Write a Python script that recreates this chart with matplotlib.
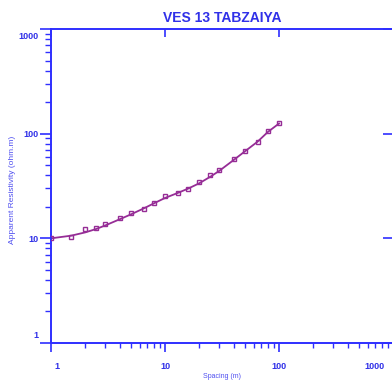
import numpy as np
import matplotlib
matplotlib.use("Agg")
import matplotlib.pyplot as plt
import matplotlib.transforms as mtransforms

plt.rcParams['font.family'] = ['Liberation Sans', 'DejaVu Sans']

# field data (AB/2 spacing vs apparent resistivity)
spacing = [1, 1.5, 2, 2.5, 3, 4, 5, 6.5, 8, 10, 13, 16, 20, 25, 30, 40, 50, 65, 80, 100]
rho_obs = [10.0, 10.4, 12.2, 12.5, 13.8, 15.7, 17.5, 19.0, 21.9, 25.4,
           27.3, 29.8, 34.7, 40.5, 45.2, 57.2, 68.2, 83.7, 105.9, 125.4]
# fitted model curve
rho_fit = [10.0, 10.6, 11.4, 12.3, 13.3, 15.2, 16.9, 19.3, 21.6, 24.3,
           27.2, 29.9, 33.6, 38.8, 44.2, 56.0, 67.5, 84.0, 104.0, 125.0]

xticks = [1, 10, 100, 1000]
xticklabels = ['1', '10', '100', '1000']
yticks = [1, 10, 100, 1000]
yticklabels = ['1', '10', '100', '1000']

blue = '#2f2fff'
txtblue = '#3030e8'
purple = '#962d96'

W, H = 392, 385
fig = plt.figure(figsize=(W / 100, H / 100), dpi=100)
ax = fig.add_axes([51 / W, (H - 343) / H, (393 - 51) / W, (343 - 29) / H])

ax.plot(spacing, rho_fit, color=purple, lw=1.3, zorder=2)
ax.plot(spacing, rho_obs, ls='none', marker='s', ms=3.3, mfc='none',
        mec=purple, mew=1.0, zorder=3)

ax.set_xscale('log')
ax.set_yscale('log')
ax.set_xlim(1, 1000)
ax.set_ylim(1, 1000)

for s in ['left', 'bottom', 'top', 'right']:
    ax.spines[s].set_color(blue)
    ax.spines[s].set_linewidth(1.4)

ax.set_xticks(xticks)
ax.set_xticklabels(xticklabels)
ax.set_yticks(yticks)
ax.set_yticklabels(yticklabels)

ax.tick_params(axis='both', which='major', direction='out', colors=blue,
               width=1.2, labelcolor=txtblue, labelsize=6.5)
ax.tick_params(axis='x', which='major', length=6.5, pad=7)
ax.tick_params(axis='y', which='major', length=8, pad=1)
ax.tick_params(axis='x', which='minor', direction='out', length=3.8,
               width=1.0, color=blue)
ax.tick_params(axis='y', which='minor', direction='out', length=4.3,
               width=1.0, color=blue)
ax.yaxis.set_minor_formatter(matplotlib.ticker.NullFormatter())
ax.xaxis.set_minor_formatter(matplotlib.ticker.NullFormatter())

for lab in ax.get_xticklabels() + ax.get_yticklabels():
    lab.set_fontweight('bold')

# nudge end labels so they sit inside the frame like the original
xl = ax.get_xticklabels()
xl[0].set_transform(xl[0].get_transform() +
                    mtransforms.ScaledTranslation(6 / 100, 0, fig.dpi_scale_trans))
xl[-1].set_transform(xl[-1].get_transform() +
                     mtransforms.ScaledTranslation(-19 / 100, 0, fig.dpi_scale_trans))
yl = ax.get_yticklabels()
yl[0].set_transform(yl[0].get_transform() +
                    mtransforms.ScaledTranslation(0, 8 / 100, fig.dpi_scale_trans))
yl[-1].set_transform(yl[-1].get_transform() +
                     mtransforms.ScaledTranslation(0, -7 / 100, fig.dpi_scale_trans))

# top and right: major ticks only, pointing inward
top = ax.secondary_xaxis('top')
top.set_xticks(xticks)
top.tick_params(direction='in', length=6, width=1.2, colors=blue, labeltop=False)
top.xaxis.set_minor_locator(matplotlib.ticker.NullLocator())
top.spines['top'].set_visible(False)
right = ax.secondary_yaxis('right')
right.set_yticks(yticks)
right.tick_params(direction='in', length=7, width=1.2, colors=blue, labelright=False)
right.yaxis.set_minor_locator(matplotlib.ticker.NullLocator())
right.spines['right'].set_visible(False)

fig.text(222 / W, 1 - 18 / H, 'VES 13 TABZAIYA', ha='center', va='center',
         fontsize=10, fontweight='bold', color=txtblue)
fig.text(222 / W, 1 - 377 / H, 'Spacing (m)', ha='center', va='center',
         fontsize=5, color='#5050f0')
fig.text(13 / W, 1 - 190 / H, 'Apparent Resistivity (ohm.m)', ha='center',
         va='center', rotation=90, fontsize=6, color='#5050f0')

fig.savefig('out.png', dpi=100)
